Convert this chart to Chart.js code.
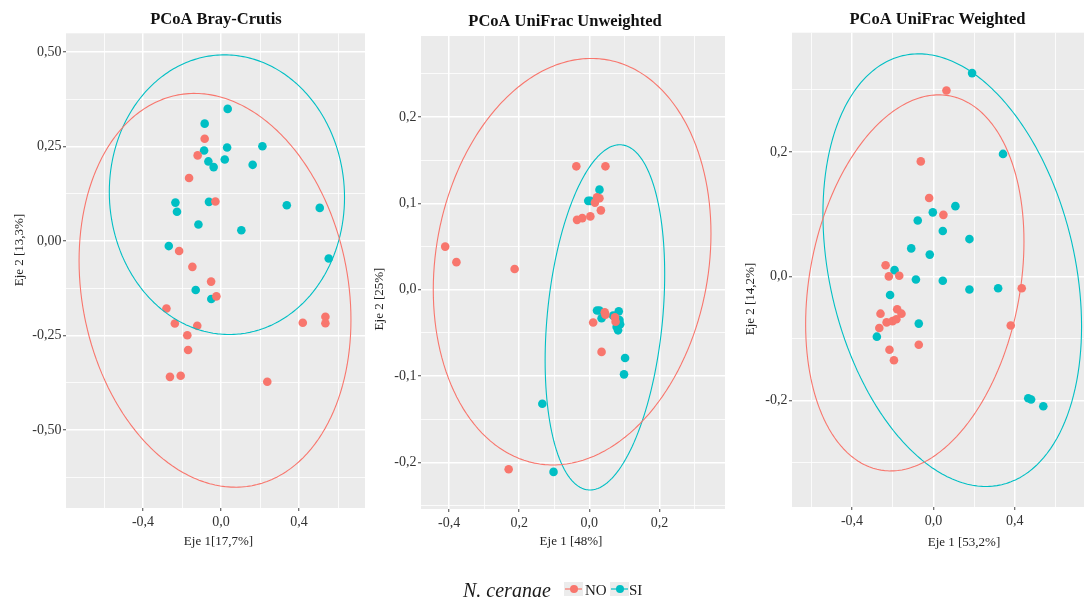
<!DOCTYPE html>
<html>
<head>
<meta charset="utf-8">
<script src="https://cdn.jsdelivr.net/npm/chart.js@4.4.1/dist/chart.umd.min.js"></script>
<style>
  html, body { margin: 0; padding: 0; background: #fff; overflow: hidden; }
  #fig { position: relative; width: 1084px; height: 601px; overflow: hidden; font-family: 'Liberation Serif', serif; }
  #fig canvas { position: absolute; top: 0; }
  .lg { position: absolute; white-space: nowrap; color: #1a1a1a; line-height: 1; }
  .key { position: absolute; width: 19px; height: 14px; background: #ececec; }
  .key i { position: absolute; left: 1px; right: 1px; top: 6.4px; height: 1.2px; opacity: 0.6; }
  .key b { position: absolute; left: 5.5px; top: 3px; width: 8px; height: 8px; border-radius: 50%; }
</style>
</head>
<body>
<div id="fig">
  <canvas id="bray" width="432" height="601" style="left:0px"></canvas>
  <canvas id="unw" width="390" height="601" style="left:370px"></canvas>
  <canvas id="wgt" width="395" height="601" style="left:740px"></canvas>

  <div class="lg" style="left:463px;top:580px;font-size:20px;font-style:italic">N. ceranae</div>
  <div class="key" style="left:564px;top:582px"><i style="background:#F8766D"></i><b style="background:#F8766D"></b></div>
  <div class="lg" style="left:585px;top:583px;font-size:15px">NO</div>
  <div class="key" style="left:610px;top:582px"><i style="background:#00BFC4"></i><b style="background:#00BFC4"></b></div>
  <div class="lg" style="left:629px;top:583px;font-size:15px">SI</div>
</div>

<script>
// Group colours (N. ceranae: NO / SI)
const colorNO = '#F8766D';
const colorSI = '#00BFC4';

// ---- PCoA Bray-Curtis: sample coordinates [Eje 1, Eje 2] ----
const brayNO = [
  [-0.084, 0.271], [-0.120, 0.227], [-0.164, 0.167], [-0.029, 0.105], [-0.215, -0.026],
  [-0.147, -0.068], [-0.051, -0.107], [-0.024, -0.146], [-0.280, -0.178], [-0.237, -0.218],
  [-0.122, -0.224], [-0.173, -0.249], [-0.169, -0.288], [-0.262, -0.359], [-0.207, -0.356],
  [0.237, -0.372], [0.419, -0.216], [0.535, -0.200], [0.535, -0.217]
];
const braySI = [
  [0.034, 0.350], [-0.084, 0.311], [-0.087, 0.240], [0.031, 0.248], [0.212, 0.251],
  [-0.065, 0.211], [-0.038, 0.196], [0.019, 0.216], [0.162, 0.202], [-0.234, 0.102],
  [-0.226, 0.078], [-0.062, 0.104], [-0.116, 0.044], [0.337, 0.095], [0.506, 0.088],
  [0.104, 0.029], [-0.268, -0.013], [0.552, -0.046], [-0.130, -0.129], [-0.050, -0.153]
];
// Confidence ellipses: [centre x, centre y, half-width, half-height, cos(phase)]
const brayEllipseNO = [-0.031, -0.130, 0.697, 0.521, -0.15];
const brayEllipseSI = [0.030, 0.123, 0.603, 0.370, -0.02];
const brayXTicks = [-0.4, 0, 0.4];
const brayXLabels = ['-0,4', '0,0', '0,4'];
const brayXMinor = [-0.6, -0.2, 0.2, 0.6];
const brayYTicks = [-0.5, -0.25, 0, 0.25, 0.5];
const brayYLabels = ['-0,50', '-0,25', '0,00', '0,25', '0,50'];
const brayYMinor = [-0.625, -0.375, -0.125, 0.125, 0.375];

// ---- PCoA UniFrac Unweighted ----
const unwNO = [
  [-0.411, 0.050], [-0.379, 0.032], [-0.213, 0.024], [-0.037, 0.143], [0.046, 0.143],
  [-0.035, 0.081], [-0.020, 0.083], [0.003, 0.085], [0.016, 0.101], [0.022, 0.107],
  [0.029, 0.106], [0.033, 0.092], [0.044, -0.026], [0.046, -0.029], [0.011, -0.038],
  [0.073, -0.032], [0.075, -0.037], [0.035, -0.072], [-0.230, -0.208]
];
const unwSI = [
  [-0.003, 0.103], [0.003, 0.103], [0.029, 0.116], [0.022, -0.024], [0.029, -0.024],
  [0.035, -0.033], [0.084, -0.025], [0.068, -0.030], [0.086, -0.035], [0.088, -0.040],
  [0.078, -0.043], [0.082, -0.047], [0.102, -0.079], [0.099, -0.098], [-0.134, -0.132],
  [-0.102, -0.211]
];
const unwEllipseNO = [-0.049, 0.0325, 0.396, 0.2355, 0.138];
const unwEllipseSI = [0.0445, -0.032, 0.1705, 0.200, 0.25];
const unwXTicks = [-0.4, -0.2, 0, 0.2];
const unwXLabels = ['-0,4', '0,2', '0,0', '0,2'];
const unwXMinor = [-0.3, -0.1, 0.1, 0.3];
const unwYTicks = [-0.2, -0.1, 0, 0.1, 0.2];
const unwYLabels = ['-0,2', '-0,1', '0,0', '0,1', '0,2'];
const unwYMinor = [-0.25, -0.15, -0.05, 0.05, 0.15, 0.25];

// ---- PCoA UniFrac Weighted ----
const wgtNO = [
  [0.064, 0.299], [-0.062, 0.185], [-0.021, 0.126], [0.049, 0.099], [-0.235, 0.018],
  [-0.219, 0.000], [-0.168, 0.001], [0.434, -0.019], [-0.260, -0.060], [-0.178, -0.053],
  [-0.157, -0.060], [-0.230, -0.074], [-0.201, -0.072], [-0.182, -0.069], [-0.266, -0.083],
  [0.380, -0.079], [-0.216, -0.118], [-0.194, -0.135], [-0.072, -0.110]
];
const wgtSI = [
  [0.190, 0.327], [0.342, 0.197], [0.108, 0.113], [-0.003, 0.103], [-0.077, 0.090],
  [0.046, 0.073], [0.177, 0.060], [-0.109, 0.045], [-0.018, 0.035], [-0.191, 0.010],
  [-0.086, -0.005], [0.046, -0.007], [0.177, -0.021], [0.318, -0.019], [-0.213, -0.030],
  [-0.072, -0.076], [-0.278, -0.097], [0.466, -0.196], [0.480, -0.198], [0.540, -0.209]
];
const wgtEllipseNO = [-0.0915, -0.0105, 0.5365, 0.3025, 0.22];
const wgtEllipseSI = [0.0925, 0.010, 0.6355, 0.348, -0.26];
const wgtXTicks = [-0.4, 0, 0.4];
const wgtXLabels = ['-0,4', '0,0', '0,4'];
const wgtXMinor = [-0.6, -0.2, 0.2, 0.6];
const wgtYTicks = [-0.2, 0, 0.2];
const wgtYLabels = ['-0,2', '0,0', '0,2'];
const wgtYMinor = [-0.3, -0.1, 0.1, 0.3];

const FONT = "'Liberation Serif', 'DejaVu Serif', serif";
const ELLIPSE_STEPS = 160;

// Outline of an ellipse: x = cx + a cos t, y = cy + b cos(t - phi)
function ellipsePath([cx, cy, a, b, c]) {
  const phi = Math.acos(c);
  const pts = [];
  for (let i = 0; i <= ELLIPSE_STEPS; i++) {
    const t = (i / ELLIPSE_STEPS) * 2 * Math.PI;
    pts.push({ x: cx + a * Math.cos(t), y: cy + b * Math.cos(t - phi) });
  }
  return pts;
}
const toXY = arr => arr.map(([x, y]) => ({ x, y }));

function axis(min, max, majors, labels, minors, fit, horizontal, pad) {
  return {
    type: 'linear', min, max,
    afterBuildTicks: s => {
      s.ticks = majors.concat(minors).sort((a, b) => a - b).map(v => ({ value: v }));
    },
    afterFit: s => { if (horizontal) s.height = fit; else s.width = fit; },
    ticks: {
      autoSkip: false, maxRotation: 0, minRotation: 0, padding: pad,
      color: '#333', font: { family: FONT, size: 14 },
      callback: v => { const i = majors.indexOf(v); return i < 0 ? '' : labels[i]; }
    },
    grid: {
      color: '#ffffff',
      lineWidth: c => (c.tick && majors.includes(c.tick.value)) ? 1.5 : 0.8,
      tickLength: 3,
      tickWidth: 1,
      tickColor: c => (c.tick && majors.includes(c.tick.value)) ? '#444' : 'rgba(0,0,0,0)'
    },
    border: { display: false }
  };
}

const panelBackground = {
  id: 'panelBackground',
  beforeDraw(chart) {
    const { ctx, chartArea: a } = chart;
    ctx.save();
    ctx.fillStyle = '#EBEBEB';
    ctx.fillRect(a.left, a.top, a.right - a.left, a.bottom - a.top);
    ctx.restore();
  }
};

// Panel heading and the two axis captions
const panelText = {
  id: 'panelText',
  afterDraw(chart, args, o) {
    const ctx = chart.ctx;
    ctx.save();
    ctx.textAlign = 'center';
    ctx.textBaseline = 'middle';
    ctx.fillStyle = '#111';
    ctx.font = `bold 16.5px ${FONT}`;
    ctx.fillText(o.title, o.titleAt[0], o.titleAt[1]);
    ctx.fillStyle = '#222';
    ctx.font = `13px ${FONT}`;
    ctx.fillText(o.xText, o.xAt[0], o.xAt[1]);
    ctx.translate(o.yAt[0], o.yAt[1]);
    ctx.rotate(-Math.PI / 2);
    ctx.fillText(o.yText, 0, 0);
    ctx.restore();
  }
};

function makePanel(id, cfg) {
  const pointSet = (label, pts, color) => ({
    label, data: toXY(pts), backgroundColor: color, borderWidth: 0,
    pointRadius: 4.3, pointHoverRadius: 4.3
  });
  // a very small tension keeps the outline on the smooth path renderer
  const ellipseSet = (label, e, color) => ({
    label, data: ellipsePath(e), showLine: true, borderColor: color, borderWidth: 1.1,
    pointRadius: 0, fill: false, tension: 0.001
  });
  new Chart(document.getElementById(id), {
    type: 'scatter',
    data: {
      datasets: [
        ellipseSet('NO', cfg.eNO, colorNO),
        ellipseSet('SI', cfg.eSI, colorSI),
        pointSet('NO', cfg.NO, colorNO),
        pointSet('SI', cfg.SI, colorSI)
      ]
    },
    options: {
      responsive: false, animation: false, events: [], devicePixelRatio: 1,
      layout: { padding: { left: 0, right: cfg.padRight, top: cfg.top, bottom: 0 } },
      scales: {
        x: axis(cfg.x[0], cfg.x[1], cfg.xTicks, cfg.xLabels, cfg.xMinor, 601 - cfg.bottom, true, 3),
        y: axis(cfg.y[0], cfg.y[1], cfg.yTicks, cfg.yLabels, cfg.yMinor, cfg.yWidth, false, 1.5)
      },
      plugins: {
        legend: { display: false },
        tooltip: { enabled: false },
        title: { display: false },
        panelText: cfg.text
      }
    },
    plugins: [panelBackground, panelText]
  });
}

makePanel('bray', {
  NO: brayNO, SI: braySI, eNO: brayEllipseNO, eSI: brayEllipseSI,
  x: [-0.795, 0.738], y: [-0.706, 0.550],
  xTicks: brayXTicks, xLabels: brayXLabels, xMinor: brayXMinor,
  yTicks: brayYTicks, yLabels: brayYLabels, yMinor: brayYMinor,
  yWidth: 66, padRight: 67, top: 33.3, bottom: 508,
  text: {
    title: 'PCoA Bray-Crutis', titleAt: [216, 19.5],
    xText: 'Eje 1[17,7%]', xAt: [218.5, 541.5], yText: 'Eje 2 [13,3%]', yAt: [20, 250]
  }
});

makePanel('unw', {
  NO: unwNO, SI: unwSI, eNO: unwEllipseNO, eSI: unwEllipseSI,
  x: [-0.480, 0.387], y: [-0.254, 0.294],
  xTicks: unwXTicks, xLabels: unwXLabels, xMinor: unwXMinor,
  yTicks: unwYTicks, yLabels: unwYLabels, yMinor: unwYMinor,
  yWidth: 51, padRight: 35, top: 36, bottom: 509,
  text: {
    title: 'PCoA UniFrac Unweighted', titleAt: [195, 21.5],
    xText: 'Eje 1 [48%]', xAt: [201, 541.5], yText: 'Eje 2 [25%]', yAt: [10, 299]
  }
});

makePanel('wgt', {
  NO: wgtNO, SI: wgtSI, eNO: wgtEllipseNO, eSI: wgtEllipseSI,
  x: [-0.695, 0.740], y: [-0.371, 0.392],
  xTicks: wgtXTicks, xLabels: wgtXLabels, xMinor: wgtXMinor,
  yTicks: wgtYTicks, yLabels: wgtYLabels, yMinor: wgtYMinor,
  yWidth: 52, padRight: 51, top: 32.7, bottom: 507,
  text: {
    title: 'PCoA UniFrac Weighted', titleAt: [197.5, 19.5],
    xText: 'Eje 1 [53,2%]', xAt: [224, 543], yText: 'Eje 2 [14,2%]', yAt: [11, 299]
  }
});
</script>
</body>
</html>
